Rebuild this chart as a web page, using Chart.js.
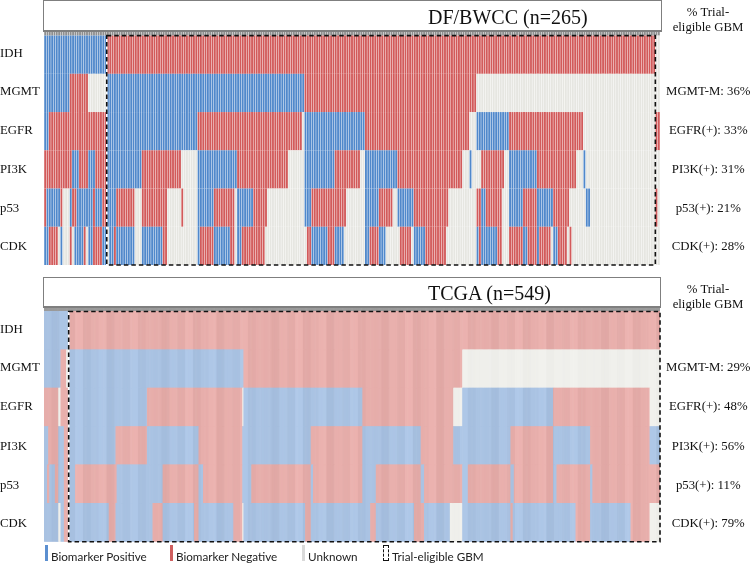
<!DOCTYPE html>
<html>
<head>
<meta charset="utf-8">
<script src="https://cdn.jsdelivr.net/npm/chart.js@4"></script>
<style>
html,body{margin:0;padding:0;background:#fff;width:750px;height:564px;overflow:hidden}
canvas{position:absolute;left:0;filter:blur(0.35px)}
.t{position:absolute;white-space:nowrap;font-family:"Liberation Serif",serif;color:#111}
.box{position:absolute;box-sizing:border-box;background:#fff;border:1.5px solid #7f7f7f;border-bottom-width:2px}
.side{position:absolute;left:663px;width:90px;text-align:center;font:12.8px/15.2px "Liberation Serif",serif;color:#111}
.lg{position:absolute;top:547px;font:11.7px/18px Lato,sans-serif;color:#222;white-space:nowrap}
.sw{position:absolute;top:545px;width:2.5px;height:16px}
</style>
</head>
<body>
<canvas id="c1" style="top:0"></canvas>
<canvas id="c2" style="top:270px"></canvas>

<div class="box" style="left:43px;top:0;width:619px;height:32px"></div>
<div class="t" style="left:428px;top:5px;font-size:20px;line-height:24px">DF/BWCC (n=265)</div>
<div class="side" style="top:5px">% Trial-<br>eligible GBM</div>

<div class="box" style="left:43px;top:277px;width:618px;height:31px"></div>
<div class="t" style="left:428px;top:281px;font-size:20px;line-height:24px">TCGA (n=549)</div>
<div class="side" style="top:282px">% Trial-<br>eligible GBM</div>

<div class="sw" style="left:45px;background:#5b8fd0"></div>
<div class="lg" style="left:51px">Biomarker Positive</div>
<div class="sw" style="left:170px;background:#cf5f5f"></div>
<div class="lg" style="left:176px">Biomarker Negative</div>
<div class="sw" style="left:302px;background:#d9d9d9"></div>
<div class="lg" style="left:308px">Unknown</div>
<div class="sw" style="left:383px;width:6px;box-sizing:border-box;border:1.5px dashed #111;background:#fff"></div>
<div class="lg" style="left:392px">Trial-eligible GBM</div>

<script>
const P = 0, N = 1, U = 2;
const markers = ["IDH", "MGMT", "EGFR", "PI3K", "p53", "CDK"];
const labelPositions = [5.53, 4.53, 3.51, 2.49, 1.47, 0.47];

// DF/BWCC: each row is a list of [status, column where the run ends]
const dfTotal = 265;
const dfEligibleFrom = 27;
const dfEligibleTo = 263;
const dfSide = ["", "MGMT-M: 36%", "EGFR(+): 33%", "PI3K(+): 31%", "p53(+): 21%", "CDK(+): 28%"];
const dfIDH = [[P,27],[N,263],[U,265]];
const dfMGMT = [[P,11],[N,19],[U,27],[P,112],[N,186],[U,265]];
const dfEGFR = [[P,2],[N,27],[P,66],[N,111],[U,112],[P,138],[N,183],[U,186],[P,200],[N,232],[U,263],[N,265]];
const dfPI3K = [[N,12],[P,15],[N,19],[P,22],[N,27],[P,42],[N,59],[U,66],[P,83],[N,105],[U,112],[P,125],[N,136],[U,138],[P,152],[N,180],[U,183],[P,184],[U,188],[N,198],[U,200],[P,212],[N,229],[U,232],[P,233],[U,265]];
const dfP53 = [[N,1],[P,7],[N,8],[U,11],[P,12],[N,14],[P,21],[N,22],[P,25],[N,27],[P,31],[N,39],[U,42],[N,53],[U,59],[N,60],[U,66],[P,73],[N,82],[U,83],[P,90],[N,96],[U,112],[P,115],[N,130],[U,138],[P,144],[N,150],[U,152],[P,159],[N,174],[U,186],[N,188],[P,190],[N,197],[U,200],[P,206],[N,212],[P,219],[N,226],[U,233],[P,235],[U,263],[N,264],[U,265]];
const dfCDK = [[P,2],[N,6],[U,7],[P,8],[U,11],[N,12],[U,13],[P,17],[N,18],[U,19],[P,21],[N,25],[P,27],[U,28],[P,30],[N,31],[P,39],[U,42],[P,51],[N,53],[U,66],[P,67],[N,73],[P,80],[N,82],[U,83],[P,85],[N,95],[U,113],[N,115],[P,122],[N,125],[P,129],[U,138],[P,140],[N,144],[P,147],[U,153],[N,158],[U,159],[P,164],[N,173],[U,186],[P,187],[N,188],[P,195],[N,197],[U,200],[N,206],[P,208],[N,212],[P,213],[N,218],[U,219],[P,221],[N,225],[U,226],[N,227],[U,265]];

// TCGA
const tcTotal = 549;
const tcEligibleFrom = 22;
const tcEligibleTo = 549;
const tcSide = ["", "MGMT-M: 29%", "EGFR(+): 48%", "PI3K(+): 56%", "p53(+): 11%", "CDK(+): 79%"];
const tcIDH = [[P,22],[N,549]];
const tcMGMT = [[P,15],[N,20],[U,22],[P,178],[N,373],[U,549]];
const tcEGFR = [[N,13],[U,15],[N,22],[P,92],[N,177],[U,178],[P,284],[N,365],[U,373],[P,454],[N,540],[U,549]];
const tcPI3K = [[P,4],[N,13],[P,18],[N,22],[P,64],[N,92],[P,138],[N,177],[P,238],[N,284],[P,336],[N,365],[P,416],[N,454],[P,487],[N,540],[P,549]];
const tcP53 = [[P,3],[N,5],[P,10],[N,13],[P,18],[N,22],[P,28],[N,65],[P,106],[N,138],[P,142],[N,177],[P,185],[N,238],[P,240],[N,284],[P,296],[N,336],[P,339],[N,373],[P,378],[N,416],[P,419],[N,454],[P,457],[N,487],[P,489],[N,549]];
const tcCDK = [[P,13],[U,15],[P,18],[N,22],[P,58],[N,64],[P,97],[N,106],[P,134],[N,138],[P,169],[N,177],[U,178],[P,233],[N,238],[P,291],[N,296],[P,330],[N,339],[P,362],[U,373],[P,416],[N,418],[P,474],[N,487],[P,523],[N,540],[U,549]];

const dfColors = [[80,136,203], [210,90,90], [230,230,225]];
const tcColors = [[169,194,226], [230,173,170], [239,239,235]];
const flatShades = [0];
const tcShades = [0, -5, 3, -2, 6, -4, 1, 5, -5, 2, -1, 5, -3, 1];
const tcShadeSpan = 7;

function expand(runs, total, colors, shades, span) {
  const out = [];
  let i = 0;
  for (const [status, end] of runs) {
    while (i < end) {
      const s = shades[Math.floor(i / span) % shades.length] * (status === U ? 0.4 : 1);
      const c = colors[status];
      out.push(`rgb(${c[0] + s},${c[1] + s},${c[2] + s})`);
      i++;
    }
  }
  return out;
}

const trialBox = {
  id: "trialBox",
  afterDatasetsDraw(chart, args, o) {
    const { ctx, scales } = chart;
    const step = scales.x.getPixelForValue(1) - scales.x.getPixelForValue(0);
    const l = scales.x.getPixelForValue(o.from) - step / 2;
    const r = scales.x.getPixelForValue(o.to - 1) + step / 2;
    const t = scales.y.getPixelForValue(6);
    const b = scales.y.getPixelForValue(0);
    ctx.save();
    ctx.lineWidth = 1.6;
    ctx.strokeStyle = "#fff";
    ctx.setLineDash([]);
    ctx.beginPath(); ctx.moveTo(l, t); ctx.lineTo(l, b); ctx.stroke();
    ctx.strokeStyle = "#111";
    ctx.setLineDash([4.5, 3]);
    ctx.strokeRect(l, t, r - l, b - t);
    ctx.restore();
  }
};

function build(id, height, padTop, padBottom, total, rows, side, colors, shades, span, headColor, headValue, barPct, from, to) {
  const canvas = document.getElementById(id);
  canvas.width = 750; canvas.height = height;
  canvas.style.width = "750px"; canvas.style.height = height + "px";
  const cols = Array.from({ length: total }, (_, i) => String(i + 1));
  const datasets = [];
  for (let r = rows.length - 1; r >= 0; r--) {
    datasets.push({
      label: markers[r],
      data: cols.map(() => 1),
      backgroundColor: expand(rows[r], total, colors, shades, span),
      barPercentage: barPct, categoryPercentage: 1, borderWidth: 0
    });
  }
  datasets.push({
    label: "samples",
    data: cols.map(() => headValue),
    backgroundColor: headColor,
    barPercentage: barPct, categoryPercentage: 1, borderWidth: 0
  });
  const rowTicks = scale => { scale.ticks = labelPositions.map(v => ({ value: v })); };
  const lookup = list => v => list[labelPositions.indexOf(v)];
  new Chart(canvas, {
    type: "bar",
    data: { labels: cols, datasets },
    plugins: [trialBox],
    options: {
      responsive: false, animation: false, events: [],
      layout: { padding: { top: padTop, bottom: padBottom, left: 0, right: 0 } },
      plugins: { legend: { display: false }, tooltip: { enabled: false }, trialBox: { from, to } },
      scales: {
        x: { stacked: true, display: false, grid: { display: false } },
        y: {
          stacked: true, min: 0, max: 6 + headValue, position: "left",
          grid: { display: false, drawTicks: false }, border: { display: false },
          afterBuildTicks: rowTicks,
          afterFit: s => { s.width = 44; },
          ticks: {
            autoSkip: false, crossAlign: "far", padding: 3, color: "#111",
            font: { family: "Liberation Serif", size: 12.8 },
            callback: lookup(markers)
          }
        },
        y2: {
          min: 0, max: 6 + headValue, position: "right",
          grid: { display: false, drawTicks: false }, border: { display: false },
          afterBuildTicks: rowTicks,
          afterFit: s => { s.width = 90; },
          ticks: {
            autoSkip: false, crossAlign: "center", padding: 6, color: "#111",
            font: { family: "Liberation Serif", size: 12.8 },
            callback: lookup(side)
          }
        }
      }
    }
  });
}

build("c1", 284, 32, 19, dfTotal, [dfIDH, dfMGMT, dfEGFR, dfPI3K, dfP53, dfCDK], dfSide, dfColors, flatShades, 1, "#8f8f8f", 0.094, 0.8, dfEligibleFrom, dfEligibleTo);
build("c2", 290, 38, 18.3, tcTotal, [tcIDH, tcMGMT, tcEGFR, tcPI3K, tcP53, tcCDK], tcSide, tcColors, tcShades, tcShadeSpan, "#9a9a9a", 0.09, 1, tcEligibleFrom, tcEligibleTo);
</script>
</body>
</html>
